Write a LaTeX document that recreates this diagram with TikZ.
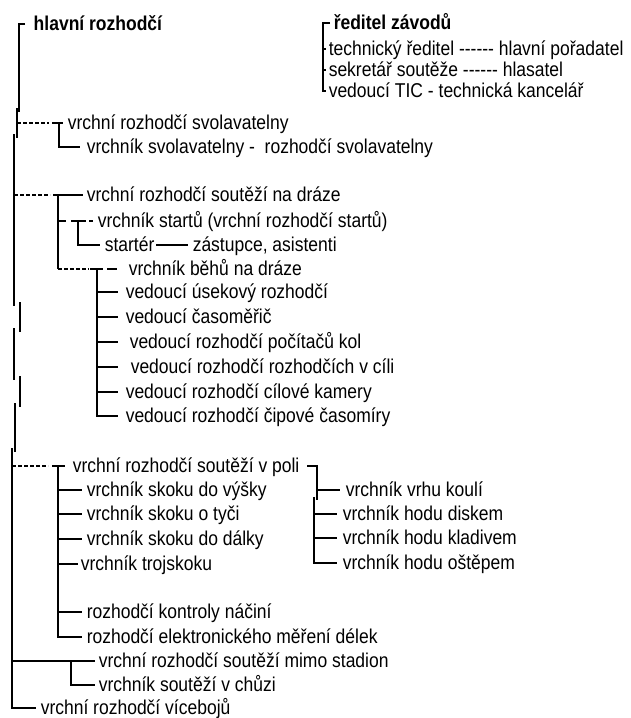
\documentclass[tikz,border=0pt]{standalone}
\usepackage{fontspec}
\setmainfont{Liberation Sans}[FakeStretch=0.875]
\newcommand\dsix{-\kern0pt-\kern0pt-\kern0pt-\kern0pt-\kern0pt-}
\begin{document}
\begin{tikzpicture}[x=1pt,y=-1pt,line width=1.5pt,
  lbl/.style={anchor=west,inner xsep=4pt,inner ysep=0pt,text height=15pt,text depth=3pt,font=\fontsize{20}{22}\selectfont},
  hd/.style={lbl,font=\fontsize{20}{22}\selectfont\bfseries},
  dsh/.style={dash pattern=on 4pt off 2pt}]
\useasboundingbox[fill=white] (0,0) rectangle (630,718);

% ---- right header tree
\node[hd,inner xsep=3pt] (rz) at (330,23) {ředitel závodů};
\node[lbl,inner xsep=2pt] (r1) at (326,49) {technický ředitel \dsix{} hlavní pořadatel};
\node[lbl,inner xsep=2pt] (r2) at (326,70) {sekretář soutěže \dsix{} hlasatel};
\node[lbl,inner xsep=2pt] (r3) at (326,91) {vedoucí TIC - technická kancelář};
\coordinate (rb) at (323,23);
\draw (rz.west) -- (rb) |- (r3.west);
\draw (rb |- r1.west) -- (r1.west);
\draw (rb |- r2.west) -- (r2.west);

% ---- main trunk
\node[hd,inner xsep=8pt] (hr) at (25,24) {hlavní rozhodčí};
\coordinate (m0) at (19,24);
\draw (hr.west) -- (m0) -- (19,112);
\draw (17,108) -- (17,138);
\draw (14,134) -- (14,306);
\draw (20,302) -- (20,332);
\draw (14,328) -- (14,380);
\draw (20,376) -- (20,407);
\draw (15,403) -- (15,452);
\coordinate (m1) at (12,448);
\node[lbl] (vb) at (36,708) {vrchní rozhodčí vícebojů};
\draw (m1) |- (vb.west);

% ---- svolavatelna
\node[lbl] (sv) at (63,123) {vrchní rozhodčí svolavatelny};
\node[lbl,inner xsep=6pt] (vs) at (80,147) {vrchník svolavatelny -\ \ rozhodčí svolavatelny};
\coordinate (s0) at (17,123);
\coordinate (s1) at (59,123);
\draw[dsh] (s0) -- (49,123);
\draw (52,123) -- (sv.west);
\draw (s1) |- (vs.west);

% ---- soutěže na dráze
\node[lbl,inner xsep=3pt] (nd) at (83,195) {vrchní rozhodčí soutěží na dráze};
\coordinate (d0) at (14,195);
\coordinate (d1) at (58,195);
\coordinate (d2) at (58,269);
\draw[dsh] (d0) -- (50,195);
\draw (53,195) -- (nd.west);
\draw (d1) -- (d2);

\node[lbl,inner xsep=4pt] (vst) at (93,221) {vrchník startů (vrchní rozhodčí startů)};
\coordinate (t1) at (78,221);
\draw (58,221) -- (66,221);
\draw (71,221) -- (86,221);
\draw (89,221) -- (vst.west);
\node[lbl,inner xsep=4pt] (st) at (100,245) {startér};
\node[lbl,inner xsep=4pt] (za) at (188,245) {zástupce, asistenti};
\draw (t1) |- (st.west);
\draw ([xshift=-3pt]st.east) -- (za.west);

\node[lbl,inner xsep=11pt] (bh) at (117,269) {vrchník běhů na dráze};
\coordinate (b1) at (97,269);
\draw[dsh] (d2) -- (89,269);
\draw (90,269) -- (103,269);
\draw (107,269) -- (bh.west);

\node[lbl,inner xsep=7pt] (us) at (118,292) {vedoucí úsekový rozhodčí};
\node[lbl,inner xsep=7pt] (cm) at (118,317) {vedoucí časoměřič};
\node[lbl,inner xsep=11pt] (pk) at (118,342) {vedoucí rozhodčí počítačů kol};
\node[lbl,inner xsep=12pt] (rc) at (118,367) {vedoucí rozhodčí rozhodčích v cíli};
\node[lbl,inner xsep=7pt] (ck) at (118,392) {vedoucí rozhodčí cílové kamery};
\node[lbl,inner xsep=7pt] (cp) at (118,416) {vedoucí rozhodčí čipové časomíry};
\draw (b1) |- (cp.west);
\foreach \n in {us,cm,pk,rc,ck} \draw (b1 |- \n.west) -- (\n.west);

% ---- soutěže v poli
\node[lbl,inner xsep=7pt] (vp) at (65,466) {vrchní rozhodčí soutěží v poli};
\coordinate (p0) at (12,466);
\coordinate (p1) at (58,466);
\draw[dsh] (p0) -- (48,466);
\draw (52,466) -- (vp.west);

\node[lbl] (sv1) at (82,490) {vrchník skoku do výšky};
\node[lbl] (sv2) at (82,514) {vrchník skoku o tyči};
\node[lbl] (sv3) at (82,539) {vrchník skoku do dálky};
\node[lbl,inner xsep=2pt] (sv4) at (78,564) {vrchník trojskoku};
\node[lbl] (sv5) at (82,612) {rozhodčí kontroly náčiní};
\node[lbl] (sv6) at (82,637) {rozhodčí elektronického měření délek};
\draw (p1) |- (sv6.west);
\foreach \n in {sv1,sv2,sv3,sv4,sv5} \draw (p1 |- \n.west) -- (\n.west);

\coordinate (q0) at (317,466);
\coordinate (q1) at (314,497);
\node[lbl,inner xsep=5pt] (vh1) at (340,490) {vrchník vrhu koulí};
\node[lbl,inner xsep=5pt] (vh2) at (337,514) {vrchník hodu diskem};
\node[lbl,inner xsep=5pt] (vh3) at (337,538) {vrchník hodu kladivem};
\node[lbl,inner xsep=5pt] (vh4) at (337,563) {vrchník hodu oštěpem};
\draw (vp.east) -- (q0) -- (317,500);
\draw (q0 |- vh1.west) -- (vh1.west);
\draw (q1) |- (vh4.west);
\draw (q1 |- vh2.west) -- (vh2.west);
\draw (q1 |- vh3.west) -- (vh3.west);

% ---- mimo stadion
\node[lbl,inner xsep=3pt] (ms) at (95,661) {vrchní rozhodčí soutěží mimo stadion};
\node[lbl,inner xsep=3pt] (ch) at (95,685) {vrchník soutěží v chůzi};
\coordinate (c0) at (12,661);
\coordinate (c1) at (71,661);
\draw (c0) -- (ms.west);
\draw (c1) |- (ch.west);
\end{tikzpicture}
\end{document}
